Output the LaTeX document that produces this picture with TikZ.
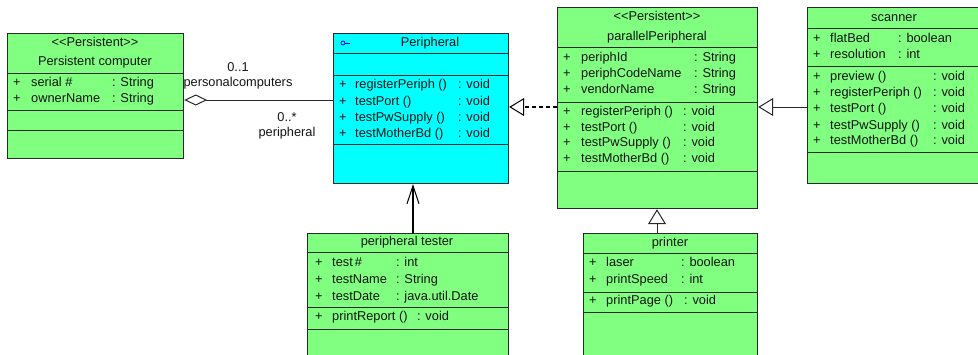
\documentclass[tikz,border=0pt]{standalone}
\usepackage{fontspec}
\setmainfont{Liberation Sans}
\usetikzlibrary{arrows.meta}
\definecolor{umlgreen}{RGB}{128,255,128}
\definecolor{umlcyan}{RGB}{0,255,255}
\definecolor{edgecol}{RGB}{40,40,40}
\definecolor{txtcol}{RGB}{20,20,20}
\newcommand{\umlrow}[7]{%
  \node[tx] (#1p) at (#2,#5) {+};
  \node[tx] (#1n) at (#3,#5) {#6};
  \node[tx] (#1t) at (#4,#5) {#7};}
\begin{document}
\begin{tikzpicture}[x=1pt,y=-1pt,
  font=\fontsize{12.8}{15}\selectfont,
  cls/.style={draw=edgecol, line width=1.2pt, anchor=north west, inner sep=0pt},
  div/.style={draw=edgecol, line width=1pt},
  tx/.style={anchor=mid west, inner sep=0pt, text=txtcol},
  tc/.style={anchor=mid, inner sep=0pt, text=txtcol},
  gen/.style={draw=edgecol, line width=1pt, -{Triangle[open,length=15pt,width=18pt,line width=1pt]}}]
\useasboundingbox (0,0) rectangle (978,354);
\clip (0,0) rectangle (978,354);
% boxes
\node[cls, fill=umlgreen, minimum width=176pt, minimum height=125pt] (pc) at (7,33) {};
\node[cls, fill=umlcyan, minimum width=175pt, minimum height=150pt] (per) at (333,33) {};
\node[cls, fill=umlgreen, minimum width=200pt, minimum height=201pt] (pp) at (557,7) {};
\node[cls, fill=umlgreen, minimum width=174pt, minimum height=176pt] (sc) at (807,7) {};
\node[cls, fill=umlgreen, minimum width=201pt, minimum height=140pt] (pt) at (307,233) {};
\node[cls, fill=umlgreen, minimum width=174pt, minimum height=140pt] (pr) at (583,233) {};
% dividers
\foreach \y in {73,110,130} \draw[div] (7,\y) -- (183,\y);
\foreach \y in {53,75,144} \draw[div] (333,\y) -- (508,\y);
\foreach \y in {47,102,171} \draw[div] (557,\y) -- (757,\y);
\foreach \y in {28,66,152} \draw[div] (807,\y) -- (981,\y);
\foreach \y in {252,307,329} \draw[div] (307,\y) -- (508,\y);
\foreach \y in {253,292,312} \draw[div] (583,\y) -- (757,\y);
% Persistent computer
\node[tc] (pcst) at (95,44) {<{}<Persistent>{}>};
\node[tc] (pcti) at (95,63) {Persistent computer};
\umlrow{pca}{13}{31}{112}{84}{serial \#}{: String}
\umlrow{pcb}{13}{31}{112}{100}{ownerName}{: String}
% Peripheral
\draw[blue, line width=0.8pt] (343,43) circle (2pt);
\draw[blue, line width=0.8pt] (345,43) -- (350,43);
\node[tc] (perti) at (430,44) {Peripheral};
\umlrow{pera}{339}{355}{458}{86}{registerPeriph ()}{: void}
\umlrow{perb}{339}{355}{458}{103}{testPort ()}{: void}
\umlrow{perc}{339}{355}{458}{119}{testPwSupply ()}{: void}
\umlrow{perd}{339}{355}{458}{135}{testMotherBd ()}{: void}
% parallelPeripheral
\node[tc] (ppst) at (657,18) {<{}<Persistent>{}>};
\node[tc] (ppti) at (657,38) {parallelPeripheral};
\umlrow{ppa}{563}{581}{694}{59}{periphId}{: String}
\umlrow{ppb}{563}{581}{694}{75}{periphCodeName}{: String}
\umlrow{ppc}{563}{581}{694}{91}{vendorName}{: String}
\umlrow{ppd}{563}{581}{683}{113}{registerPeriph ()}{: void}
\umlrow{ppe}{563}{581}{683}{129}{testPort ()}{: void}
\umlrow{ppf}{563}{581}{683}{144}{testPwSupply ()}{: void}
\umlrow{ppg}{563}{581}{683}{160}{testMotherBd ()}{: void}
% scanner
\node[tc] (scti) at (894,19) {scanner};
\umlrow{sca}{813}{830}{898}{40}{flatBed}{: boolean}
\umlrow{scb}{813}{830}{898}{56}{resolution}{: int}
\umlrow{scc}{813}{830}{933}{78}{preview ()}{: void}
\umlrow{scd}{813}{830}{933}{94}{registerPeriph ()}{: void}
\umlrow{sce}{813}{830}{933}{110}{testPort ()}{: void}
\umlrow{scf}{813}{830}{933}{127}{testPwSupply ()}{: void}
\umlrow{scg}{813}{830}{933}{142}{testMotherBd ()}{: void}
% peripheral tester
\node[tc] (ptti) at (407,243) {peripheral tester};
\umlrow{pta}{315}{332}{396}{264}{test\,\#}{: int}
\umlrow{ptb}{315}{332}{396}{281}{testName}{: String}
\umlrow{ptc}{315}{332}{396}{298}{testDate}{: java.util.Date}
\umlrow{ptd}{315}{332}{417}{318}{printReport ()}{: void}
% printer
\node[tc] (prti) at (670,244) {printer};
\umlrow{pra}{589}{606}{681}{264}{laser}{: boolean}
\umlrow{prb}{589}{606}{681}{281}{printSpeed}{: int}
\umlrow{prc}{589}{606}{684}{302}{printPage ()}{: void}
% connectors
\draw[draw=edgecol, line width=1pt, {Diamond[open,length=23pt,width=11pt,line width=1pt]}-]
  (pc.east |- 0,100) -- (per.west |- 0,100);
\node[tc] (m1) at (238,69) {0..1};
\node[tc] (r1) at (238,84) {personalcomputers};
\node[tc] (m2) at (287,119) {0..*};
\node[tc] (r2) at (287,134) {peripheral};
\draw[draw=black, line width=2.5pt, dash pattern=on 4.5pt off 2.5pt,
  -{Triangle[open,length=15pt,width=18pt,line width=1pt]}]
  (pp.west |- 0,107) -- (per.east |- 0,107);
\draw[gen] (sc.west |- 0,107) -- (pp.east |- 0,107);
\draw[gen] (pr.north -| 657,0) -- (pp.south -| 657,0);
\draw[draw=black, line width=2.5pt, -{Straight Barb[length=18pt,width=12pt,line width=1pt]}]
  (pt.north -| 413,0) -- (per.south -| 413,0);
\end{tikzpicture}
\end{document}
